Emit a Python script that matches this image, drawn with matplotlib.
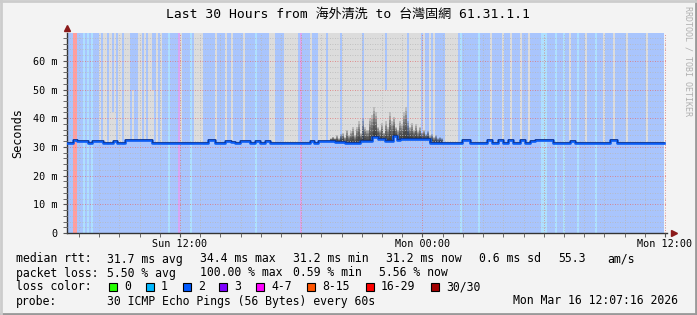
import numpy as np
import matplotlib
matplotlib.use('Agg')
import matplotlib.pyplot as plt
from matplotlib.patches import Rectangle
from matplotlib.ticker import MultipleLocator, FixedLocator

# ── Data ──────────────────────────────────────────────────────────────────
# time axis in hours since Sun 00:00
T_START, T_END, DATA_END = 6.41, 36.1, 35.95
Y_TOP = 69.7  # ms

# one char per 6-minute slot: b=loss bg blue, c=cyan, p=red, v=violet,
# g=smoke up to top, h=smoke to ~50 m, k=smoke to ~42 m
slot_pattern = "".join([
    "bbb", "pp", "bbb", "cbc", "bcbbb", "gbg", "gbgkgbggb", "ggg", "bhbbg",
    "gbgbgghbgbgb", "bbcbbbb", "v", "gbbbbcbgg", "ggbbbbb",
    "bgbbbbgbbgbbbbbgb", "bbbbcbbbbbbgggbbbbgg", "gggggb", "v", "bbbbgbbb",
    "ggggbggggggbgggg",
    "ggggggbgggggggggghggggggggggbggggg", "gbgbbgbg", "bbbbb", "gggggg",
    "bcbbbbbbbbcbbbbbgbbb", "bbgbbbgbbbbgbbbgbbbb", "bcccbbbbcb",
    "bbcbbgbbbcbbbgbbbbcb", "bbgbbbbgbbbbbgbbbbbb", "bbbgbbbbbbbb",
])

# median rtt steps (hour where value starts, ms)
med_t = [6.41, 6.71, 6.90, 7.45, 7.65, 8.19, 8.69, 8.89, 9.28, 10.62, 13.39,
         13.74, 14.23, 14.53, 14.73, 14.97, 15.47, 15.72, 15.96, 16.21, 16.46,
         16.71, 18.44, 18.64, 18.84, 19.68, 20.17, 20.92, 21.51, 21.81, 22.15,
         22.55, 22.75, 22.89, 24.38, 25.96, 26.36, 27.20, 27.45, 27.75, 27.99,
         28.24, 28.49, 28.84, 29.08, 29.33, 29.58, 30.47, 31.31, 31.56, 33.29,
         33.64]
med_v = [31.5, 32.4, 32.2, 31.2, 32.0, 31.2, 32.1, 31.2, 32.4, 31.2, 32.4,
         31.5, 32.2, 31.6, 31.2, 31.9, 31.2, 32.2, 31.4, 32.1, 31.5,
         31.2, 32.0, 31.5, 32.2, 31.8, 31.4, 31.9, 33.4, 32.6, 32.0,
         33.8, 32.3, 32.8, 31.5, 32.4, 31.5, 32.4, 31.5, 32.4, 31.5,
         32.4, 31.5, 32.3, 31.5, 32.2, 32.4, 31.5, 32.2, 31.4, 32.4,
         31.4]

# dense (dark) smoke tops for slots 130..185
DARK_FIRST = 130
dark_top = [33, 33.5, 33, 34, 33, 34.5,
            35, 33.5, 36, 34, 35.5, 37, 34,
            37, 39, 35, 40, 37, 36, 40, 41,
            44, 42, 37,
            36, 38.5, 35, 39, 37,
            42, 39, 40.5,
            37, 36, 39,
            38, 42, 44, 39,
            37, 38.5, 36, 38, 35.5, 37,
            35, 36, 34.5, 35.5, 34, 34.5,
            33.5, 34, 33, 33.5, 33]

y_ticks = [0, 10, 20, 30, 40, 50, 60]
x_ticks = [12, 24, 36]
x_labels = ["Sun 12:00", "Mon 00:00", "Mon 12:00"]

loss_labels = ["0", "1", "2", "3", "4-7", "8-15", "16-29", "30/30"]
loss_colors = ["#26ff00", "#00b8ff", "#0059ff", "#7e00ff", "#ff00ff",
               "#ff5500", "#ff0000", "#a10000"]
loss_x = [109, 146, 183, 219, 256, 307, 366, 431]

stat_lines = [
    (259, [(16, "median rtt:"), (107, "31.7 ms avg"), (200, "34.4 ms max"),
           (293, "31.2 ms min"), (386, "31.2 ms now"), (479, "0.6 ms sd"),
           (558, "55.3"), (607, "am/s")]),
    (273, [(16, "packet loss:"), (107, "5.50 % avg"), (200, "100.00 % max"),
           (293, "0.59 % min"), (379, "5.56 % now")]),
    (287, [(16, "loss color:")]),
    (301, [(16, "probe:"), (107, "30 ICMP Echo Pings (56 Bytes) every 60s"),
           (513, "Mon Mar 16 12:07:16 2026")]),
]

BG_COLORS = {"b": "#a9c5fd", "c": "#aee0ff", "p": "#ff9e9e", "v": "#d9a6f5",
             "g": "#a9c5fd", "h": "#a9c5fd", "k": "#a9c5fd"}
SMOKE_TOP = {"g": Y_TOP, "h": 50.0, "k": 42.0}
SMOKE = "#dcdcdc"
MONO = ["DejaVu Sans Mono", "Noto Sans CJK TC"]

W, H = 697, 315


def fx(x):
    return x / W


def fy(y):
    return 1 - y / H


fig = plt.figure(figsize=(W / 100, H / 100), dpi=100, facecolor="#f3f3f3")
ax = fig.add_axes([fx(67), fy(233), 600 / W, 200 / H])
ax.set_facecolor("#f3f3f3")

n = len(slot_pattern)
slot_w = (DATA_END - T_START) / n
slot_t = T_START + slot_w * np.arange(n)
med_idx = np.searchsorted(med_t, slot_t + slot_w / 2, side="right") - 1
slot_med = np.array(med_v)[med_idx]

# loss background
ax.bar(slot_t, Y_TOP, width=slot_w, align="edge", linewidth=0,
       color=[BG_COLORS[c] for c in slot_pattern], antialiased=False, zorder=1)

# light smoke
for i, c in enumerate(slot_pattern):
    if c in SMOKE_TOP:
        ax.bar(slot_t[i], SMOKE_TOP[c] - slot_med[i] + 0.5, bottom=slot_med[i] - 0.5,
               width=slot_w, align="edge", linewidth=0, color=SMOKE,
               antialiased=False, zorder=1.5)

# dense smoke, darker near the median
for j, top in enumerate(dark_top):
    i = DARK_FIRST + j
    base = slot_med[i]
    for k in range(8):
        h = (top - base) * (k + 1) / 8
        ax.bar(slot_t[i], h, bottom=base, width=slot_w, align="edge",
               linewidth=0, color="black", alpha=0.14, antialiased=False,
               zorder=1.8)

# median line
mt = list(med_t) + [DATA_END]
mv = list(med_v) + [med_v[-1]]
ax.plot(mt, mv, drawstyle="steps-post", color="#0a5cf5", lw=1.9, zorder=3)
ax.plot(mt, np.array(mv) + 0.35, drawstyle="steps-post", color="#10205a",
        lw=0.4, zorder=3.1)

ax.set_xlim(T_START, T_END)
ax.set_ylim(0, Y_TOP)

ax.xaxis.set_major_locator(FixedLocator(x_ticks))
ax.set_xticklabels(x_labels)
ax.xaxis.set_minor_locator(MultipleLocator(1))
ax.yaxis.set_major_locator(FixedLocator(y_ticks))
ax.set_yticklabels(["0" if v == 0 else f"{v} m" for v in y_ticks])
ax.yaxis.set_minor_locator(MultipleLocator(2))

ax.set_axisbelow(False)
ax.grid(which="minor", color="#b8b8b8", linestyle=(0, (1, 2)), lw=0.6)
ax.grid(which="major", color="#e07070", linestyle=(0, (1, 2)), lw=0.6)
# red lines every 6 hours
for t in [18, 30]:
    ax.axvline(t, color="#e07070", linestyle=(0, (1, 2)), lw=0.6, zorder=2.5)

for lab in ax.get_xticklabels() + ax.get_yticklabels():
    lab.set_fontfamily("DejaVu Sans Mono")
    lab.set_fontsize(7.3)
ax.tick_params(which="both", direction="out", length=3, color="#555555",
               pad=1)
ax.tick_params(axis="y", pad=4)

for s in ["top", "right"]:
    ax.spines[s].set_visible(False)
for s in ["left", "bottom"]:
    ax.spines[s].set_color("#333333")
    ax.spines[s].set_linewidth(1)

# axis arrows
ax.plot([0], [1.025], marker="^", color="#8b1a1a", ms=5, transform=ax.transAxes,
        clip_on=False)
ax.plot([1.012], [0], marker=">", color="#8b1a1a", ms=5, transform=ax.transAxes,
        clip_on=False)

ax.set_ylabel("Seconds", family="DejaVu Sans Mono", fontsize=8.6, labelpad=6)

fig.text(fx(348), fy(14), "Last 30 Hours from 海外清洗 to 台灣固網 61.31.1.1",
         ha="center", va="center", family=MONO, fontsize=9.4)
fig.text(fx(688), fy(6), "RRDTOOL / TOBI OETIKER", rotation=270, ha="center",
         va="top", family="DejaVu Sans Mono", fontsize=6, color="#b0b0b0")

for y, pieces in stat_lines:
    for x, s in pieces:
        fig.text(fx(x), fy(y), s, ha="left", va="center",
                 family="DejaVu Sans Mono", fontsize=8.3)

for x, lab, col in zip(loss_x, loss_labels, loss_colors):
    fig.add_artist(Rectangle((fx(x), fy(291)), 8 / W, 8 / H, facecolor=col,
                             edgecolor="black", lw=0.8,
                             transform=fig.transFigure))
    fig.text(fx(x + 15), fy(287), lab, ha="left", va="center",
             family="DejaVu Sans Mono", fontsize=8.3)

# frame
fig.add_artist(plt.Line2D([0, 1], [fy(313.5)] * 2, color="#999999", lw=2,
                          transform=fig.transFigure))
fig.add_artist(plt.Line2D([fx(695.5)] * 2, [0, 1], color="#999999", lw=2,
                          transform=fig.transFigure))
fig.add_artist(plt.Line2D([0, 1], [fy(1)] * 2, color="#cccccc", lw=2,
                          transform=fig.transFigure))
fig.add_artist(plt.Line2D([fx(1)] * 2, [0, 1], color="#cccccc", lw=2,
                          transform=fig.transFigure))

fig.savefig("out.png", dpi=100, facecolor=fig.get_facecolor())
